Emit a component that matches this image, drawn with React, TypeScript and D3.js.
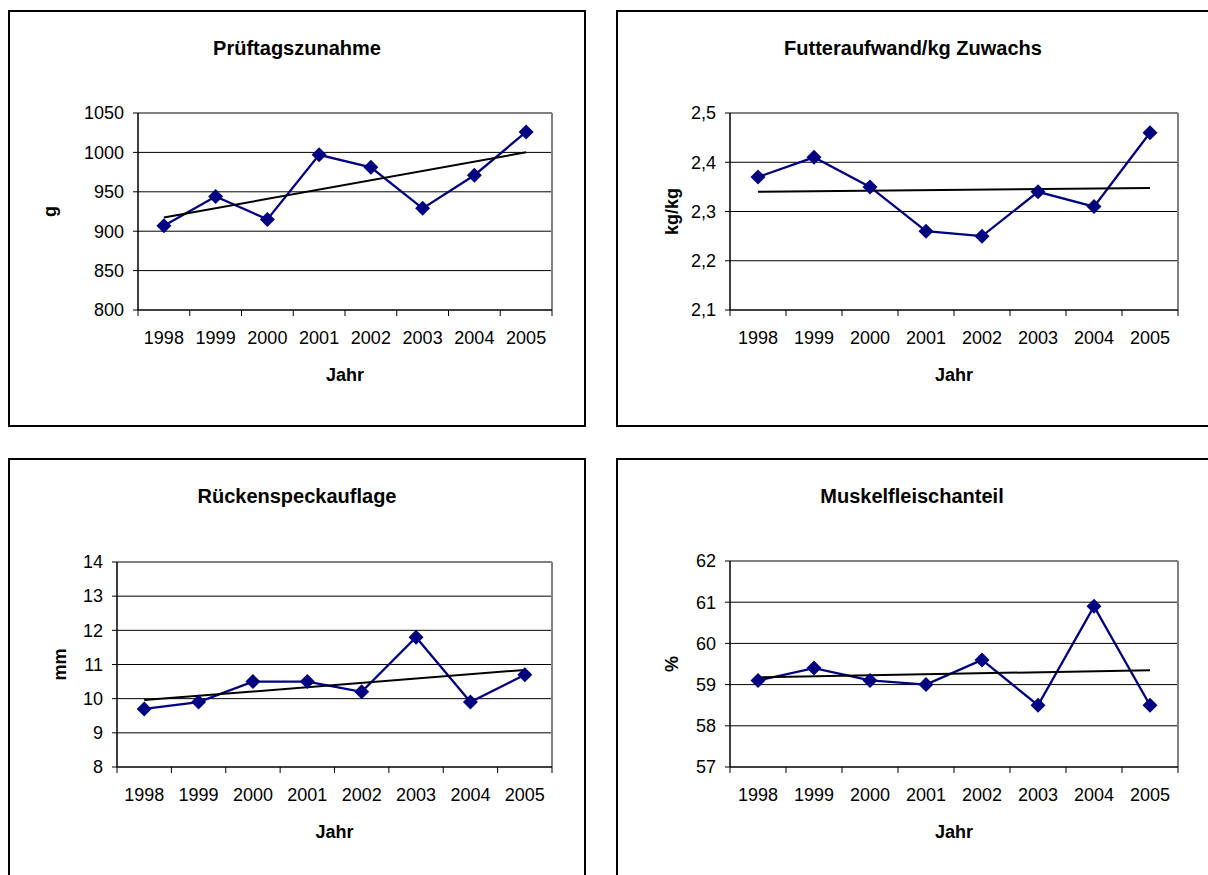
import React from "react";
import * as d3 from "d3";

const years = ["1998", "1999", "2000", "2001", "2002", "2003", "2004", "2005"];

const gainValues = [907, 944, 915, 997, 981, 929, 971, 1026];
const feedValues = [2.37, 2.41, 2.35, 2.26, 2.25, 2.34, 2.31, 2.46];
const fatValues = [9.7, 9.9, 10.5, 10.5, 10.2, 11.8, 9.9, 10.7];
const leanValues = [59.1, 59.4, 59.1, 59.0, 59.6, 58.5, 60.9, 58.5];

const gainTicks = [800, 850, 900, 950, 1000, 1050];
const feedTicks = [2.1, 2.2, 2.3, 2.4, 2.5];
const fatTicks = [8, 9, 10, 11, 12, 13, 14];
const leanTicks = [57, 58, 59, 60, 61, 62];

const FONT = "Arial, 'Liberation Sans', sans-serif";
const NAVY = "#000080";

type PanelProps = {
  box: { x: number; y: number; w: number; h: number };
  plot: { left: number; right: number; top: number; bottom: number };
  title: string;
  titleX: number;
  yTitle: string;
  yTitleX: number;
  values: number[];
  ticks: number[];
  fmt: (v: number) => string;
};

// lineare Trendlinie (kleinste Quadrate)
const trend = (vals: number[]) => {
  const n = vals.length;
  const mx = (n - 1) / 2;
  const my = d3.mean(vals) as number;
  let sxy = 0;
  let sxx = 0;
  vals.forEach((v, i) => {
    sxy += (i - mx) * (v - my);
    sxx += (i - mx) * (i - mx);
  });
  const b = sxy / sxx;
  return [my - b * mx, my + b * (n - 1 - mx)];
};

const Panel = ({ box, plot, title, titleX, yTitle, yTitleX, values, ticks, fmt }: PanelProps) => {
  const x = d3.scaleBand().domain(years).range([plot.left, plot.right]);
  const y = d3
    .scaleLinear()
    .domain([ticks[0], ticks[ticks.length - 1]])
    .range([plot.bottom, plot.top]);
  const cx = (d: string) => (x(d) as number) + x.bandwidth() / 2;

  const line = d3
    .line<number>()
    .x((_, i) => cx(years[i]))
    .y((v) => y(v));

  const [t0, t1] = trend(values);
  const tickXs = d3.range(years.length + 1).map((i) => plot.left + i * x.step());
  const midY = (plot.top + plot.bottom) / 2;
  const midX = (plot.left + plot.right) / 2;

  return (
    <g fontFamily={FONT}>
      <rect x={box.x} y={box.y} width={box.w} height={box.h} fill="#fff" stroke="#000" strokeWidth={2} />
      <text x={titleX} y={box.y + 44} textAnchor="middle" fontSize={20} fontWeight="bold">
        {title}
      </text>

      {ticks.slice(1, -1).map((t) => (
        <line key={t} x1={plot.left} x2={plot.right} y1={y(t)} y2={y(t)} stroke="#000" strokeWidth={1} />
      ))}
      <line x1={plot.left} x2={plot.right} y1={plot.top} y2={plot.top} stroke="#808080" strokeWidth={2} />
      <line x1={plot.right} x2={plot.right} y1={plot.top} y2={plot.bottom} stroke="#808080" strokeWidth={2} />

      <line x1={plot.left} x2={plot.left} y1={plot.top} y2={plot.bottom} stroke="#000" strokeWidth={1.5} />
      <line x1={plot.left} x2={plot.right} y1={plot.bottom} y2={plot.bottom} stroke="#000" strokeWidth={1.5} />

      {ticks.map((t) => (
        <g key={t}>
          <line x1={plot.left - 5} x2={plot.left} y1={y(t)} y2={y(t)} stroke="#000" strokeWidth={1} />
          <text x={plot.left - 14} y={y(t)} dy="0.35em" textAnchor="end" fontSize={18}>
            {fmt(t)}
          </text>
        </g>
      ))}
      {tickXs.map((tx, i) => (
        <line key={i} x1={tx} x2={tx} y1={plot.bottom} y2={plot.bottom + 6} stroke="#000" strokeWidth={1} />
      ))}
      {years.map((d) => (
        <text key={d} x={cx(d)} y={plot.bottom + 34} textAnchor="middle" fontSize={18}>
          {d}
        </text>
      ))}

      <text x={midX} y={plot.bottom + 71} textAnchor="middle" fontSize={18} fontWeight="bold">
        Jahr
      </text>
      <text
        transform={`translate(${yTitleX},${midY}) rotate(-90)`}
        textAnchor="middle"
        dy="0.35em"
        fontSize={18}
        fontWeight="bold"
      >
        {yTitle}
      </text>

      <path d={line(values) as string} fill="none" stroke={NAVY} strokeWidth={2.3} />
      <line
        x1={cx(years[0])}
        x2={cx(years[years.length - 1])}
        y1={y(t0)}
        y2={y(t1)}
        stroke="#000"
        strokeWidth={2}
      />
      {values.map((v, i) => (
        <path
          key={i}
          transform={`translate(${cx(years[i])},${y(v)})`}
          d="M0,-7.5L7.5,0L0,7.5L-7.5,0Z"
          fill={NAVY}
        />
      ))}
    </g>
  );
};

const comma = (v: number) => d3.format(".1f")(v).replace(".", ",");
const plain = (v: number) => String(v);

export default function App() {
  return (
    <svg
      width={1208}
      height={875}
      style={{ position: "absolute", left: 0, top: 0, background: "#fff" }}
    >
      <Panel
        box={{ x: 9, y: 11, w: 576, h: 415 }}
        plot={{ left: 138, right: 552, top: 113, bottom: 310 }}
        title="Prüftagszunahme"
        titleX={297}
        yTitle="g"
        yTitleX={50}
        values={gainValues}
        ticks={gainTicks}
        fmt={plain}
      />
      <Panel
        box={{ x: 617, y: 11, w: 600, h: 415 }}
        plot={{ left: 730, right: 1178, top: 113, bottom: 310 }}
        title="Futteraufwand/kg Zuwachs"
        titleX={913}
        yTitle="kg/kg"
        yTitleX={672}
        values={feedValues}
        ticks={feedTicks}
        fmt={comma}
      />
      <Panel
        box={{ x: 9, y: 459, w: 576, h: 430 }}
        plot={{ left: 117, right: 552, top: 562, bottom: 767 }}
        title="Rückenspeckauflage"
        titleX={297}
        yTitle="mm"
        yTitleX={60}
        values={fatValues}
        ticks={fatTicks}
        fmt={plain}
      />
      <Panel
        box={{ x: 617, y: 459, w: 600, h: 430 }}
        plot={{ left: 730, right: 1178, top: 561, bottom: 767 }}
        title="Muskelfleischanteil"
        titleX={912}
        yTitle="%"
        yTitleX={672}
        values={leanValues}
        ticks={leanTicks}
        fmt={plain}
      />
    </svg>
  );
}
